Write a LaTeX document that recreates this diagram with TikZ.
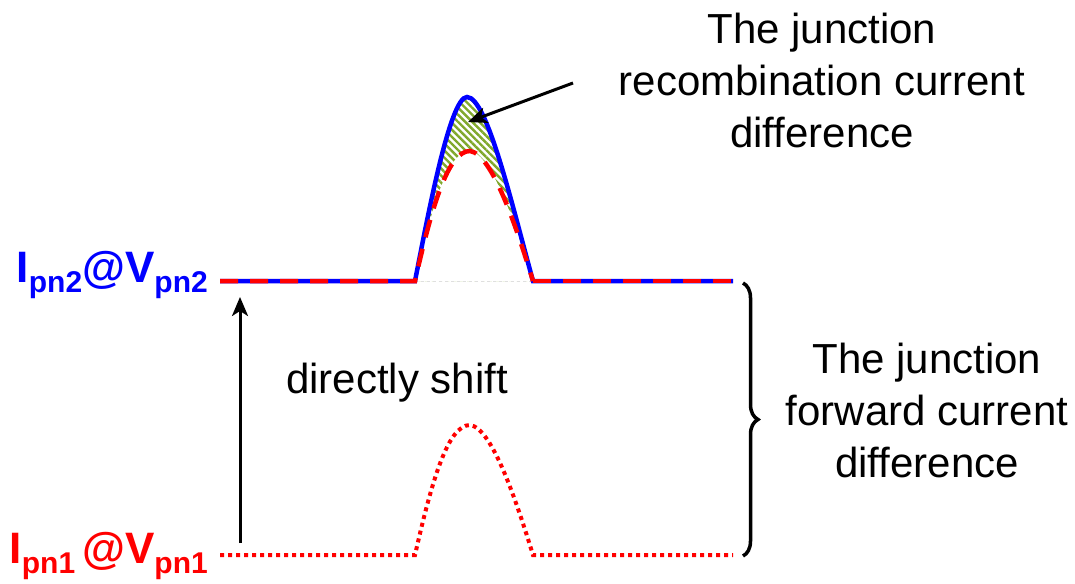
\documentclass[tikz,border=0pt]{standalone}
\usepackage{fontspec}
\setmainfont{Liberation Sans}
\usetikzlibrary{arrows.meta,decorations.pathreplacing,patterns.meta}
\definecolor{hatchgreen}{RGB}{128,168,44}
\newcommand{\subpn}[1]{\raisebox{-10pt}{\fontsize{30}{30}\selectfont #1}}

\begin{document}
\begin{tikzpicture}[x=1pt,y=-1pt,font=\fontsize{42}{52}\selectfont,
  curveblue/.style={draw=blue,line width=4.5pt},
  curvered/.style={draw=red,line width=4.5pt,dash pattern=on 18pt off 12pt},
  dotred/.style={draw=red,line width=4pt,dash pattern=on 4pt off 4pt},
  pointer/.style={-{Stealth[length=19pt,width=16pt,inset=5pt]},line width=3pt},
  lbl/.style={align=center,inner sep=0pt},
  pnlbl/.style={anchor=base east,inner sep=0pt,font=\fontsize{44}{44}\selectfont\bfseries}]
\useasboundingbox (0,0) rectangle (1075,583);
% end points of the flat parts
\coordinate (a2) at (220,281); \coordinate (b2) at (415,281);
\coordinate (c2) at (533,281); \coordinate (d2) at (733,281);
\coordinate (a1) at (220,555); \coordinate (b1) at (415,555);
\coordinate (c1) at (533,555); \coordinate (d1) at (733,555);
% hatched area between the two upper bumps
\fill[pattern={Lines[angle=-45,distance=5pt,line width=2.4pt]},pattern color=hatchgreen]
  (b2) .. controls (428,215) and (450,97) .. (467,97) .. controls (487,97) and (512,205) .. (c2) -- cycle;
\fill[white] (b2) .. controls (432,206) and (448,151) .. (470,151) .. controls (492,154) and (516,226) .. (c2) -- cycle;
\draw[gray!25,dashed,thin] (b2) -- (c2);
% upper curve, blue under red dashes
\draw[curveblue] (a2) -- (b2) .. controls (428,215) and (450,97) .. (467,97) .. controls (487,97) and (512,205) .. (c2) -- (d2);
\draw[curvered] (a2) -- (b2) .. controls (432,206) and (448,151) .. (470,151) .. controls (492,154) and (516,226) .. (c2);
\draw[curvered] (c2) -- (d2);
% lower curve
\draw[dotred] (a1) -- (b1) .. controls (432,480) and (448,425) .. (470,425) .. controls (492,428) and (516,500) .. (c1) -- (d1);
% labels
\node[pnlbl,text=blue] (pntwo) at (208,282) {I\subpn{pn2}@V\subpn{pn2}};
\node[pnlbl,text=red] (pnone) at (208,563) {I\subpn{pn1}\hspace{7pt}@V\subpn{pn1}};
\node[lbl] (recomb) at (822,80) {The junction\\recombination current\\difference};
\node[lbl] (forward) at (927,410) {The junction\\forward current\\difference};
\node[inner sep=0pt] (shift) at (397,383) {directly shift};
% arrows and brace
\coordinate (shiftfrom) at (240,543); \coordinate (shiftto) at (240,297);
\draw[pointer] (shiftfrom) -- (shiftto);
\coordinate (recombtail) at (573,83); \coordinate (recombtip) at (468,122);
\draw[pointer] (recombtail) -- (recombtip);
\coordinate (bracetop) at (743,283); \coordinate (bracebot) at (743,556);
\draw[decorate,decoration={brace,amplitude=15pt},line width=3.5pt] (bracetop) -- (bracebot);
\end{tikzpicture}
\end{document}
